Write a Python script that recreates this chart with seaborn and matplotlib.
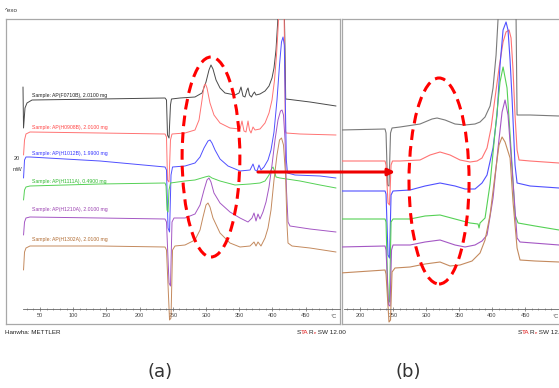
import matplotlib
matplotlib.use('Agg')
import matplotlib.pyplot as plt
import seaborn as sns
from matplotlib.patches import Ellipse, ConnectionPatch
from matplotlib.offsetbox import TextArea, HPacker, AnchoredOffsetbox

sns.set_theme(style='white')
plt.rcParams['font.family'] = ['Liberation Sans', 'DejaVu Sans']

# ---- panel (a): full run, temperature (C) / heat flow (mW, offset) ----
black_a_temp = [24.4, 25.2, 27.4, 30.4, 38.0, 140.4, 238.3, 240.5, 242.0, 244.3, 246.5, 248.0, 260.8, 283.4,
                294.0, 300.0, 304.5, 307.5, 310.5, 315.1, 321.1, 328.6, 343.7, 349.7, 352.7, 355.7, 358.7,
                361.7, 363.3, 365.5, 368.5, 370.8, 373.0, 375.3, 381.3, 388.9, 394.9, 399.4, 402.4, 405.4,
                407.7, 408.9, 412.9, 417.9, 419.0, 420.0, 426.5, 456.6, 495.8]
black_a_mw = [23.7, 19.6, 21.6, 22.1, 22.4, 22.5, 22.6, 22.4, 18.9, 18.6, 21.9, 22.5, 22.6, 22.7,
              23.1, 24.2, 25.4, 25.9, 25.5, 24.4, 23.6, 23.1, 22.9, 23.1, 23.7, 22.8, 22.7,
              23.4, 23.6, 22.9, 22.7, 23.0, 23.2, 22.9, 23.0, 23.3, 23.8, 24.6, 25.6, 27.4,
              29.9, 31.4, 32.4, 31.4, 27.4, 22.5, 22.45, 22.2, 21.8]

red_a_temp = [25.2, 26.7, 28.9, 34.9, 140.4, 238.3, 240.5, 242.0, 244.3, 246.5, 248.8, 268.4, 283.4, 289.5,
              294.0, 297.0, 299.2, 301.5, 306.0, 312.0, 321.1, 336.1, 351.2, 354.2, 357.2, 360.2, 363.3,
              365.5, 367.8, 370.8, 373.8, 381.3, 388.9, 394.9, 399.4, 403.2, 406.2, 408.4, 409.9, 413.7,
              417.5, 418.5, 419.4, 420.5, 441.6, 495.8]
red_a_mw = [16.9, 18.4, 19.0, 19.2, 19.1, 19.0, 18.7, 14.4, 14.2, 18.4, 19.0, 19.1, 19.4, 20.4,
            22.4, 23.8, 24.0, 23.6, 22.1, 20.9, 20.1, 19.6, 19.5, 20.3, 19.3, 19.2, 20.3,
            19.4, 19.1, 19.7, 19.4, 19.5, 20.1, 21.1, 22.4, 24.4, 26.9, 29.4, 31.4, 32.4,
            31.4, 26.4, 19.4, 19.1, 19.0, 18.9]

blue_a_temp = [25.2, 26.7, 28.9, 34.9, 140.4, 238.3, 240.5, 242.8, 245.1, 247.3, 249.6, 268.4, 283.4, 291.0,
               297.0, 303.0, 306.0, 309.0, 313.6, 321.1, 333.1, 351.2, 366.3, 370.8, 373.8, 376.8, 379.8,
               382.8, 387.3, 393.4, 397.9, 402.4, 406.9, 410.7, 413.7, 416.0, 417.9, 419.4, 421.0, 422.7,
               434.0, 471.7, 495.8]
blue_a_mw = [14.6, 16.4, 16.7, 16.7, 16.3, 15.7, 15.4, 9.6, 9.2, 14.9, 15.7, 15.8, 16.1, 16.7,
             17.6, 18.3, 18.4, 18.1, 17.4, 16.5, 15.8, 15.3, 15.4, 16.0, 15.4, 15.3, 15.9,
             15.4, 15.7, 16.4, 17.4, 19.2, 22.4, 25.9, 28.2, 28.7, 27.9, 22.4, 16.4, 15.1,
             14.9, 14.8, 14.6]

green_a_temp = [25.2, 26.7, 28.9, 34.9, 140.4, 238.3, 239.8, 241.3, 242.8, 244.3, 246.5, 268.4, 283.4, 298.5,
                304.5, 309.0, 321.1, 343.7, 366.3, 381.3, 388.9, 394.9, 398.6, 400.9, 403.2, 405.4, 411.4,
                441.6, 471.7, 495.8]
green_a_mw = [12.4, 13.4, 13.7, 13.8, 14.0, 14.1, 13.8, 11.4, 11.2, 13.4, 14.1, 14.3, 14.4, 14.7,
              14.8, 14.6, 14.3, 13.9, 14.0, 14.1, 14.3, 14.9, 15.5, 15.7, 15.3, 14.7, 14.6,
              14.3, 13.9, 13.6]

purple_a_temp = [25.2, 26.7, 28.9, 34.9, 140.4, 238.3, 240.5, 244.3, 246.5, 248.8, 251.8, 268.4, 283.4, 291.0,
                 297.0, 301.5, 304.5, 307.5, 312.0, 321.1, 336.1, 351.2, 363.3, 369.3, 372.3, 375.3, 378.3,
                 381.3, 385.8, 390.4, 394.9, 399.4, 403.9, 408.4, 412.2, 414.5, 416.7, 419.0, 421.2, 423.5,
                 426.5, 456.6, 495.8]
purple_a_mw = [8.9, 10.2, 10.6, 10.7, 10.6, 10.5, 10.2, 4.1, 3.8, 10.2, 10.6, 10.6, 11.0, 11.9,
               13.4, 14.4, 14.6, 14.2, 13.1, 12.1, 11.2, 10.6, 10.2, 10.6, 11.1, 10.3, 11.0,
               10.5, 11.2, 12.2, 13.7, 15.9, 18.4, 20.4, 21.3, 21.4, 20.9, 18.4, 13.4, 10.2,
               9.8, 9.5, 9.2]

brown_a_temp = [25.2, 26.7, 28.9, 34.9, 140.4, 238.3, 240.5, 245.1, 247.3, 249.6, 253.3, 268.4, 283.4, 291.0,
                295.5, 300.0, 303.0, 306.0, 310.5, 321.1, 336.1, 351.2, 366.3, 372.3, 375.3, 378.3, 382.8,
                388.9, 393.4, 397.9, 402.4, 406.9, 410.7, 413.7, 416.7, 419.8, 422.0, 423.5, 429.5, 456.6,
                495.8]
brown_a_mw = [5.4, 7.2, 7.6, 7.8, 7.8, 7.7, 7.4, 0.4, 0.6, 7.4, 7.8, 7.9, 8.4, 9.4,
              10.7, 11.9, 12.1, 11.7, 10.6, 9.1, 8.1, 7.7, 7.8, 8.2, 7.8, 8.2, 7.8,
              8.6, 9.6, 11.4, 14.4, 16.9, 18.4, 18.6, 17.9, 14.9, 9.9, 8.1, 7.8, 7.6,
              7.2]

# ---- panel (b): enlarged view ----
black_b_temp = [170.0, 237.9, 239.4, 241.7, 243.9, 246.2, 248.5, 260.6, 290.9, 309.1, 316.7, 328.8, 343.9,
                359.1, 374.2, 381.8, 389.4, 397.0, 401.5, 406.1, 409.1, 412.1, 433.3, 436.4, 437.9, 457.6, 501.5]
black_b_mw = [19.4, 19.5, 19.1, 13.9, 13.8, 19.1, 19.6, 19.7, 20.0, 20.5, 20.6, 20.4, 20.0,
              19.9, 20.0, 20.2, 20.7, 21.8, 23.6, 26.9, 30.5, 32.4, 32.4, 30.5, 20.9, 20.9, 20.8]

red_b_temp = [170.0, 237.9, 239.4, 242.4, 244.7, 247.0, 249.2, 260.6, 290.9, 306.1, 321.2, 336.4, 351.5,
              366.7, 377.3, 384.8, 392.4, 398.5, 404.5, 410.6, 416.7, 421.2, 425.8, 428.8, 431.8, 434.8,
              437.9, 440.9, 457.6, 501.5]
red_b_mw = [16.3, 16.3, 15.9, 12.1, 11.9, 15.9, 16.3, 16.3, 16.4, 16.9, 17.2, 16.9, 16.4,
            16.2, 16.3, 16.6, 17.6, 19.6, 22.6, 25.6, 28.2, 29.2, 29.4, 28.6, 25.4, 20.9,
            17.4, 16.4, 16.3, 16.1]

blue_b_temp = [170.0, 237.9, 239.4, 242.4, 244.7, 247.0, 250.0, 275.8, 298.5, 321.2, 343.9, 359.1, 374.2,
               384.8, 392.4, 401.5, 407.6, 412.1, 416.7, 421.2, 424.2, 427.3, 430.3, 434.8, 437.9, 457.6, 501.5]
blue_b_mw = [13.3, 13.3, 13.0, 6.9, 6.6, 12.9, 13.3, 13.4, 13.8, 14.1, 13.8, 13.5, 13.5,
             14.1, 14.9, 17.6, 20.9, 25.9, 29.4, 30.2, 29.4, 26.4, 22.6, 15.9, 14.1, 13.8, 13.6]

green_b_temp = [170.0, 237.9, 239.4, 242.4, 244.7, 247.0, 250.0, 275.8, 298.5, 321.2, 343.9, 366.7, 378.8,
                380.3, 381.8, 389.4, 397.0, 404.5, 412.1, 416.7, 422.7, 430.3, 434.8, 439.4, 465.2, 501.5]
green_b_mw = [10.5, 10.5, 10.2, 2.4, 2.2, 10.2, 10.5, 10.5, 10.8, 10.9, 10.5, 10.1, 10.0,
              9.6, 10.1, 10.6, 14.0, 19.2, 24.2, 25.7, 23.6, 15.9, 10.9, 10.1, 9.8, 9.4]

purple_b_temp = [170.0, 237.9, 239.4, 243.2, 245.5, 247.7, 250.0, 275.8, 298.5, 321.2, 343.9, 359.1, 374.2,
                 384.8, 392.4, 401.5, 409.1, 415.2, 419.7, 424.2, 431.8, 437.9, 442.4, 501.5]
purple_b_mw = [7.7, 7.8, 7.4, 1.9, 1.8, 7.4, 7.9, 7.9, 8.2, 8.4, 7.9, 7.7, 7.9,
               8.3, 8.9, 12.6, 17.6, 21.2, 22.4, 20.9, 14.2, 8.6, 8.2, 7.9]

brown_b_temp = [170.0, 237.9, 239.4, 243.9, 246.2, 248.5, 253.0, 275.8, 298.5, 321.2, 336.4, 351.5, 369.7,
                381.8, 389.4, 397.0, 404.5, 410.6, 415.2, 419.7, 427.3, 431.8, 437.9, 442.4, 465.2, 501.5]
brown_b_mw = [5.1, 5.4, 5.0, 0.2, 0.4, 5.2, 5.6, 5.7, 6.0, 6.2, 5.8, 5.9, 6.3,
              7.1, 8.4, 10.9, 14.9, 17.9, 18.7, 18.2, 16.6, 12.2, 7.6, 6.4, 6.3, 6.2]

sample_names = ['Sample: AP(F0710B), 2.0100 mg', 'Sample: AP(H0908B), 2.0100 mg',
                'Sample: AP(H1012B), 1.9900 mg', 'Sample: AP(H1111A), 0.4900 mg',
                'Sample: AP(H1210A), 2.0100 mg', 'Sample: AP(H1302A), 2.0100 mg']
label_levels = [22.8, 19.6, 17.1, 14.2, 11.4, 8.4]

line_colors = ['#4a4a4a', '#ff7373', '#5050ff', '#55d155', '#a457c4', '#c48a5e']
text_colors = ['#222222', '#ff4545', '#3535ff', '#2fb82f', '#9a3fb0', '#b06a30']

W, H = 559, 388
FRAME = '#a8a8a8'
fig = plt.figure(figsize=(W / 100, H / 100), dpi=100)


def make_panel(left_px, width_px, xlim, major, minor, axis_start, unit_x):
    rect = [left_px / W, 64 / H, width_px / W, 305 / H]
    frame = fig.add_axes(rect)
    frame.set_xticks([])
    frame.set_yticks([])
    for s in frame.spines.values():
        s.set_color(FRAME)
        s.set_linewidth(0.9)
    ax = fig.add_axes(rect)
    ax.patch.set_visible(False)
    for s in ['top', 'left', 'right']:
        ax.spines[s].set_visible(False)
    ax.spines['bottom'].set_position(('axes', 15 / 305))
    ax.spines['bottom'].set_color('#666666')
    ax.spines['bottom'].set_linewidth(0.6)
    ax.spines['bottom'].set_bounds(axis_start, xlim[1])
    ax.set_xlim(xlim)
    ax.set_ylim(0, 30.5)
    ax.set_yticks([])
    ax.set_xticks(major)
    ax.set_xticks(minor, minor=True)
    ax.tick_params(axis='x', which='both', bottom=True, labelbottom=True, direction='inout',
                   colors='#666666', labelcolor='#444444', labelsize=4, pad=1.5)
    ax.tick_params(axis='x', which='major', length=3, width=0.5)
    ax.tick_params(axis='x', which='minor', length=2, width=0.4)
    ax.text(unit_x, 7 / 305, '°C', transform=ax.get_xaxis_transform(),
            ha='center', va='center', fontsize=4, color='#444444')
    return ax


ax_a = make_panel(6, 334, (-1.2, 501.8), range(50, 451, 50), range(30, 491, 10), 25, 493)
ax_b = make_panel(342, 222, (172.7, 509), range(200, 451, 50), range(180, 491, 10), 175, 497)

curves_a = [(black_a_temp, black_a_mw), (red_a_temp, red_a_mw), (blue_a_temp, blue_a_mw),
            (green_a_temp, green_a_mw), (purple_a_temp, purple_a_mw), (brown_a_temp, brown_a_mw)]
curves_b = [(black_b_temp, black_b_mw), (red_b_temp, red_b_mw), (blue_b_temp, blue_b_mw),
            (green_b_temp, green_b_mw), (purple_b_temp, purple_b_mw), (brown_b_temp, brown_b_mw)]

for (t, v), c in zip(curves_a, line_colors):
    sns.lineplot(x=t, y=v, ax=ax_a, color=c, linewidth=0.7, sort=False, estimator=None)
b_colors = ['#7a7a7a'] + line_colors[1:]
for (t, v), c in zip(curves_b, b_colors):
    sns.lineplot(x=t, y=v, ax=ax_b, color=c, linewidth=0.8, sort=False, estimator=None)

for ax in (ax_a, ax_b):
    ax.set_xlabel('')
    ax.set_ylabel('')

for name, lvl, c in zip(sample_names, label_levels, text_colors):
    ax_a.text(38, lvl, name, fontsize=3.7, color=c, va='center', ha='left')

ax_a.text(0.033, 0.541, '20', transform=ax_a.transAxes, fontsize=4, color='#333333', ha='center', va='center')
ax_a.text(0.033, 0.505, 'mW', transform=ax_a.transAxes, fontsize=4, color='#333333', ha='center', va='center')

# dashed ellipses around the exotherm near 300 C
ax_a.add_patch(Ellipse((307.5, 16.7), 87, 20.0, fill=False, edgecolor='#ff0000',
                       linewidth=2.2, linestyle=(0, (3.5, 2)), zorder=5))
ax_b.add_patch(Ellipse((319.7, 14.3), 91, 20.6, fill=False, edgecolor='#ff0000',
                       linewidth=2.2, linestyle=(0, (3.5, 2)), zorder=5))

arrow = ConnectionPatch(xyA=(378.3, 15.2), coordsA=ax_a.transData,
                        xyB=(253, 15.2), coordsB=ax_b.transData,
                        arrowstyle='-|>', color='#ee0000', linewidth=2.2, mutation_scale=10, zorder=10)
fig.add_artist(arrow)

fig.text(5 / W, 1 - 10 / H, '^exo', fontsize=4.5, color='#333333', va='center', ha='left')
fig.text(5 / W, 1 - 332 / H, 'Hanwha: METTLER', fontsize=4.5, color='#222222', va='center', ha='left')


def star_label(x_px):
    tp = dict(size=4.6, color='#222222')
    rp = dict(size=4.6, color='#e02020')
    parts = [TextArea('S', textprops=tp), TextArea('TA', textprops=rp), TextArea('R', textprops=tp),
             TextArea('e', textprops=dict(size=3.2, color='#e02020')), TextArea(' SW 12.00', textprops=tp)]
    box = HPacker(children=parts, pad=0, sep=0, align='top')
    anch = AnchoredOffsetbox(loc='center left', child=box, pad=0, borderpad=0, frameon=False,
                             bbox_to_anchor=(x_px / W, 1 - 333 / H), bbox_transform=fig.transFigure)
    fig.add_artist(anch)


star_label(297)
star_label(518)

fig.text(160 / W, 1 - 372 / H, '(a)', fontsize=13, color='#333333', ha='center', va='center',
         family='DejaVu Sans')
fig.text(408 / W, 1 - 372 / H, '(b)', fontsize=13, color='#333333', ha='center', va='center',
         family='DejaVu Sans')

fig.savefig('out.png', dpi=100)
